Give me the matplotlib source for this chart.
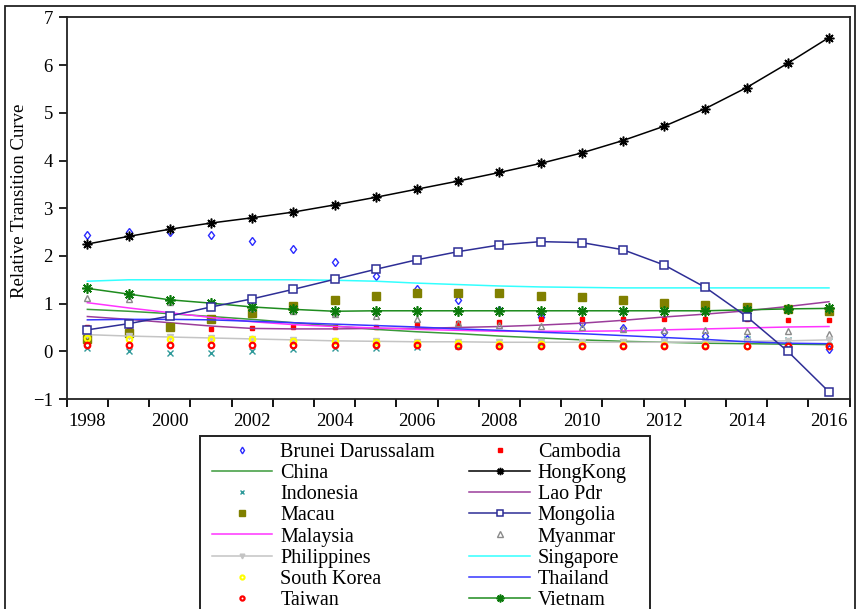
import matplotlib
matplotlib.use('Agg')
import matplotlib.pyplot as plt
from matplotlib.patches import Rectangle

# 字体设置: Times 风格
plt.rcParams['font.family'] = ['Liberation Serif', 'DejaVu Serif']

# 数据
years = list(range(1998, 2017))
brunei = [2.44, 2.50, 2.50, 2.44, 2.32, 2.14, 1.87, 1.58, 1.30, 1.08, 0.87, 0.73, 0.60, 0.49, 0.41, 0.32, 0.25, 0.15, 0.05]
cambodia = [0.50, 0.47, 0.48, 0.47, 0.48, 0.50, 0.52, 0.52, 0.56, 0.60, 0.62, 0.67, 0.67, 0.67, 0.67, 0.68, 0.67, 0.66, 0.66]
china = [0.88, 0.84, 0.79, 0.73, 0.67, 0.60, 0.53, 0.46, 0.41, 0.37, 0.32, 0.28, 0.24, 0.21, 0.19, 0.17, 0.16, 0.15, 0.14]
hongkong = [2.25, 2.41, 2.56, 2.69, 2.80, 2.92, 3.07, 3.23, 3.40, 3.57, 3.75, 3.94, 4.16, 4.42, 4.72, 5.09, 5.53, 6.04, 6.58]
indonesia = [0.06, 0.01, -0.03, -0.03, 0.01, 0.04, 0.07, 0.08, 0.10, 0.12, 0.14, 0.16, 0.17, 0.19, 0.21, 0.23, 0.25, 0.24, 0.22]
lao = [0.73, 0.67, 0.60, 0.53, 0.48, 0.47, 0.47, 0.48, 0.48, 0.50, 0.52, 0.55, 0.59, 0.65, 0.72, 0.78, 0.85, 0.94, 1.04]
macau = [0.25, 0.38, 0.52, 0.67, 0.81, 0.95, 1.08, 1.16, 1.23, 1.23, 1.22, 1.16, 1.13, 1.08, 1.02, 0.97, 0.92, 0.89, 0.85]
mongolia = [0.45, 0.58, 0.74, 0.93, 1.10, 1.30, 1.51, 1.72, 1.92, 2.09, 2.23, 2.30, 2.28, 2.13, 1.81, 1.34, 0.73, 0.00, -0.85]
malaysia = [1.02, 0.91, 0.81, 0.71, 0.62, 0.56, 0.52, 0.49, 0.46, 0.44, 0.42, 0.42, 0.42, 0.43, 0.45, 0.47, 0.49, 0.51, 0.52]
myanmar = [1.12, 1.09, 1.04, 0.98, 0.91, 0.85, 0.79, 0.75, 0.68, 0.60, 0.56, 0.53, 0.51, 0.47, 0.45, 0.44, 0.43, 0.42, 0.37]
philippines = [0.35, 0.32, 0.30, 0.28, 0.26, 0.24, 0.22, 0.21, 0.20, 0.20, 0.19, 0.19, 0.19, 0.19, 0.19, 0.20, 0.21, 0.22, 0.24]
singapore = [1.47, 1.50, 1.50, 1.50, 1.50, 1.50, 1.49, 1.47, 1.43, 1.40, 1.37, 1.35, 1.34, 1.33, 1.33, 1.33, 1.33, 1.33, 1.33]
south_korea = [0.27, 0.25, 0.25, 0.25, 0.25, 0.22, 0.22, 0.20, 0.18, 0.17, 0.15, 0.15, 0.14, 0.14, 0.13, 0.13, 0.12, 0.12, 0.12]
thailand = [0.66, 0.67, 0.67, 0.66, 0.63, 0.60, 0.57, 0.54, 0.51, 0.47, 0.44, 0.40, 0.37, 0.33, 0.29, 0.25, 0.20, 0.17, 0.16]
taiwan = [0.14, 0.14, 0.14, 0.14, 0.14, 0.14, 0.14, 0.13, 0.13, 0.12, 0.12, 0.12, 0.11, 0.11, 0.11, 0.11, 0.11, 0.11, 0.11]
vietnam = [1.32, 1.20, 1.08, 1.01, 0.93, 0.88, 0.84, 0.85, 0.85, 0.85, 0.85, 0.85, 0.85, 0.85, 0.85, 0.85, 0.87, 0.89, 0.90]

year_labels = ['1998', '2000', '2002', '2004', '2006', '2008', '2010', '2012', '2014', '2016']

fig = plt.figure(figsize=(8.56, 6.09), dpi=100)
ax = fig.add_axes([0.078, 0.3448, 0.9145, 0.6265])

star = (8, 2, 0)
# 按图例顺序画
ax.plot(years, brunei, ls='none', marker='d', ms=4.5, mfc='none', mec='#2a2aff', mew=1, label='Brunei Darussalam')
ax.plot(years, cambodia, ls='none', marker='s', ms=3.5, color='#ff0000', label='Cambodia')
ax.plot(years, china, color='#3a9a3a', lw=1.1, label='China')
ax.plot(years, hongkong, color='black', lw=1.1, marker=star, ms=7, mew=1.1, label='HongKong', zorder=5)
ax.plot(years, indonesia, ls='none', marker='x', ms=4.5, mew=1, color='#2f9a9a', label='Indonesia')
ax.plot(years, lao, color='#9b3d9b', lw=1.1, label='Lao Pdr')
ax.plot(years, macau, ls='none', marker='s', ms=5.5, color='#808000', label='Macau')
ax.plot(years, mongolia, color='#2e2e96', lw=1.1, marker='s', ms=5.5, mfc='white', mec='#2e2e96', mew=1.1, label='Mongolia', zorder=4)
ax.plot(years, malaysia, color='#ff33ff', lw=1.1, label='Malaysia')
ax.plot(years, myanmar, ls='none', marker='^', ms=5, mfc='none', mec='#8a8a8a', mew=1, label='Myanmar')
ax.plot(years, philippines, color='#c4c4c4', lw=1.1, marker='v', ms=4.5, label='Philippines')
ax.plot(years, singapore, color='#33ffff', lw=1.1, label='Singapore')
ax.plot(years, south_korea, ls='none', marker='o', ms=4, mfc='none', mec='#ffff00', mew=1.5, label='South Korea')
ax.plot(years, thailand, color='#3535ff', lw=1.1, label='Thailand')
ax.plot(years, taiwan, ls='none', marker='o', ms=4, mfc='none', mec='#ff0000', mew=1.6, label='Taiwan')
ax.plot(years, vietnam, color='#1e8c1e', lw=1.1, marker=star, ms=7.5, mew=1.2, mec='#0c7a0c', label='Vietnam')

# 坐标轴
ax.set_xlim(1997.5, 2016.5)
ax.set_ylim(-1, 7)
ax.set_yticks(range(-1, 8))
ax.set_xticks([y - 0.5 for y in years] + [2016.5])
ax.set_xticklabels([])
ax.set_xticks(list(range(1998, 2017, 2)), minor=True)
ax.set_xticklabels(year_labels, minor=True)
ax.tick_params(axis='x', which='major', direction='out', length=5.5, width=1.3)
ax.tick_params(axis='x', which='minor', length=0, pad=10, labelsize=13.5)
ax.tick_params(axis='y', direction='out', length=6, width=1.2, pad=4, labelsize=13.5)
for sp in ax.spines.values():
    sp.set_linewidth(1.3)
    sp.set_color('#222222')

ax.set_ylabel('Relative Transition Curve', fontsize=13.5)
ax.yaxis.set_label_coords(-0.05, 0.52)

# 图例: 按行排列 (左列为偶数项, 右列为奇数项), 边框单独画
handles, labels = ax.get_legend_handles_labels()
order = list(range(0, 16, 2)) + list(range(1, 16, 2))
leg = fig.legend([handles[i] for i in order], [labels[i] for i in order],
                 loc='upper left', bbox_to_anchor=(212 / 856, 1 - 443 / 609), ncol=2,
                 fontsize=14.5, frameon=False,
                 handlelength=3.0, handletextpad=0.4, columnspacing=1.7, labelspacing=0.1,
                 borderpad=0, borderaxespad=0, markerscale=0.75)
fig.patches.append(Rectangle((200 / 856, -0.05), 450 / 856, 0.05 + 1 - 436 / 609, transform=fig.transFigure,
                             fill=False, lw=1.4, edgecolor='#222222'))

# 外框
fig.patches.append(Rectangle((5 / 856, -0.05), 850 / 856, 1.05 - 6 / 609, transform=fig.transFigure,
                             fill=False, lw=1.3, edgecolor='#222222'))

fig.savefig('out.png', dpi=100)
